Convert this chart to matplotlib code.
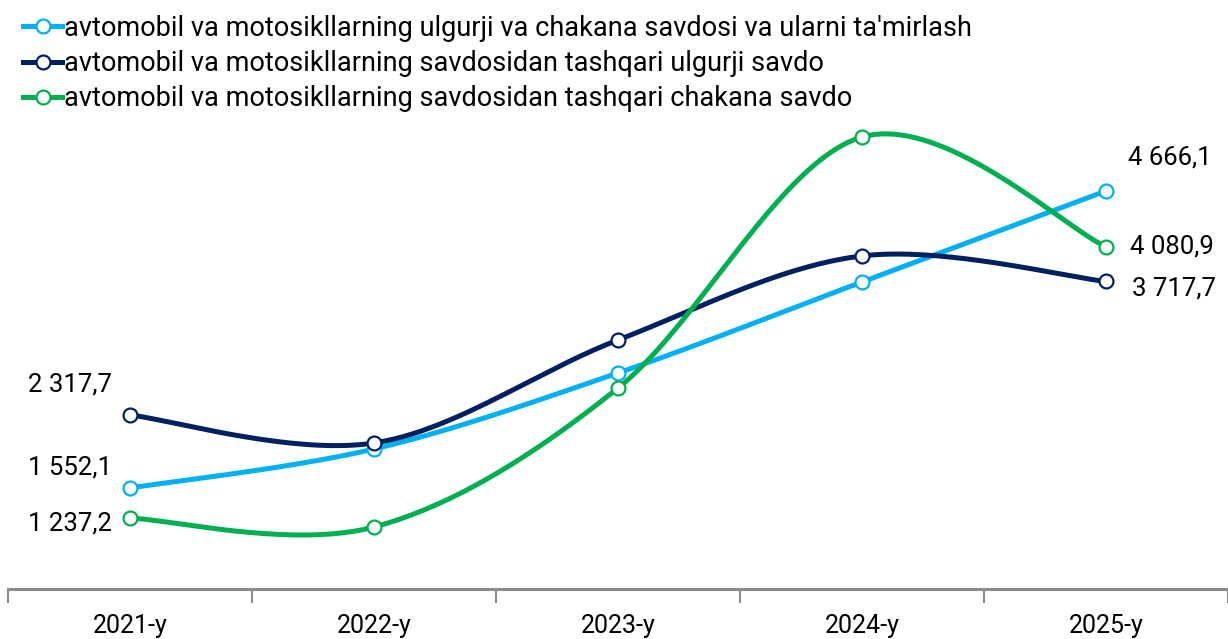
import numpy as np
import matplotlib
matplotlib.use("Agg")
import matplotlib.pyplot as plt

years = ["2021-y", "2022-y", "2023-y", "2024-y", "2025-y"]
series_names = [
    "avtomobil va motosikllarning ulgurji va chakana savdosi va ularni ta'mirlash",
    "avtomobil va motosikllarning savdosidan tashqari ulgurji savdo",
    "avtomobil va motosikllarning savdosidan tashqari chakana savdo",
]
repair = [1552.1, 1961.0, 2758.0, 3712.0, 4666.1]
wholesale = [2317.7, 2024.0, 3104.0, 3985.0, 3717.7]
retail = [1237.2, 1143.0, 2600.0, 5232.0, 4080.9]
colors = ["#00B0F0", "#002060", "#00B050"]

plt.rcParams["font.family"] = ["Roboto", "DejaVu Sans"]

def smooth(x, y, n=40):
    x = np.asarray(x, float); y = np.asarray(y, float)
    P = np.column_stack([x, y])
    out = []
    for i in range(len(P) - 1):
        p0 = P[i - 1] if i > 0 else P[i]
        p1 = P[i]; p2 = P[i + 1]
        p3 = P[i + 2] if i + 2 < len(P) else P[i + 1]
        c1 = p1 + (p2 - p0) / 6.0
        c2 = p2 - (p3 - p1) / 6.0
        t = np.linspace(0, 1, n)[:, None]
        seg = (1 - t) ** 3 * p1 + 3 * (1 - t) ** 2 * t * c1 + 3 * (1 - t) * t ** 2 * c2 + t ** 3 * p2
        out.append(seg if i == 0 else seg[1:])
    S = np.vstack(out)
    return S[:, 0], S[:, 1]

fig = plt.figure(figsize=(12.28, 6.39), dpi=100)
ax = fig.add_axes([8 / 1228, 50 / 639, 1 - 8 / 1228, 489 / 639])
x = np.arange(len(years))
all_series = [repair, wholesale, retail]
handles = []
for vals, c, nm in zip(all_series, colors, series_names):
    sx, sy = smooth(x, vals)
    ax.plot(sx, sy, color=c, lw=3.6, solid_capstyle="round", zorder=2)
    ax.plot(x, vals, ls="none", marker="o", ms=10, mfc="white", mec=c, mew=1.6, zorder=3)
    h, = ax.plot([], [], color=c, lw=3.6, marker="o", ms=10, mfc="white", mec=c, mew=1.6)
    handles.append(h)

ax.set_xlim(-0.5, 4.48)
ax.set_ylim(493, 5620)
for s in ["top", "right", "left"]:
    ax.spines[s].set_visible(False)
ax.spines["bottom"].set_color("#8C8C8C")
ax.spines["bottom"].set_linewidth(2.2)
ax.set_yticks([])
ax.set_xticks(np.arange(-0.5, 4.6, 1.0))
ax.set_xticklabels([])
ax.set_xticks(x, minor=True)
ax.set_xticklabels(years, minor=True, fontsize=18)
ax.tick_params(axis="x", which="major", length=10, width=1.5, color="#8C8C8C")
ax.tick_params(axis="x", which="minor", length=0, pad=18)

def fmt(v):
    return f"{v:,.1f}".replace(",", " ").replace(".", ",")

lab_fs = 18.5
ax.annotate(fmt(repair[0]), (0, repair[0]), xytext=(-13, 15), textcoords="offset points",
            ha="right", va="center", fontsize=lab_fs)
ax.annotate(fmt(wholesale[0]), (0, wholesale[0]), xytext=(-13, 22), textcoords="offset points",
            ha="right", va="center", fontsize=lab_fs)
ax.annotate(fmt(retail[0]), (0, retail[0]), xytext=(-13, -4), textcoords="offset points",
            ha="right", va="center", fontsize=lab_fs)
ax.annotate(fmt(repair[4]), (4, repair[4]), xytext=(16, 24), textcoords="offset points",
            ha="left", va="center", fontsize=lab_fs)
ax.annotate(fmt(retail[4]), (4, retail[4]), xytext=(17, 0), textcoords="offset points",
            ha="left", va="center", fontsize=lab_fs)
ax.annotate(fmt(wholesale[4]), (4, wholesale[4]), xytext=(19, -5), textcoords="offset points",
            ha="left", va="center", fontsize=lab_fs)

fig.legend(handles, series_names, loc="upper left", bbox_to_anchor=(8 / 1228, 1.0),
           frameon=False, fontsize=19.5, handlelength=1.45, handletextpad=0.05,
           labelspacing=0.3, borderaxespad=0.2, borderpad=0.35)

fig.savefig("out.png", dpi=100)
